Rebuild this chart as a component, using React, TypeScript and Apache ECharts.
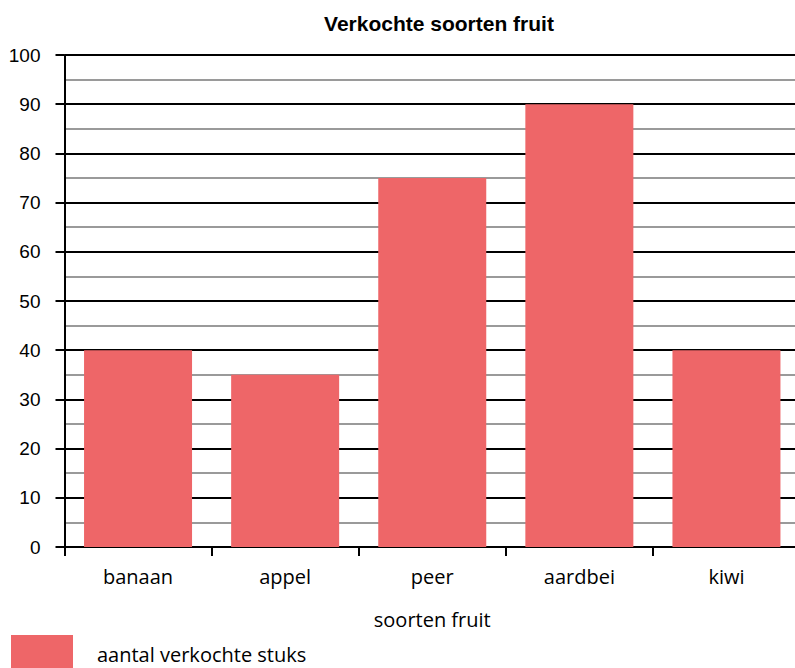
import React, { useEffect, useRef } from "react";
import * as echarts from "echarts";

const categories = ["banaan", "appel", "peer", "aardbei", "kiwi"];
const values = [40, 35, 75, 90, 40];
const seriesName = "aantal verkochte stuks";
const titleText = "Verkochte soorten fruit";
const xAxisName = "soorten fruit";

export default function App() {
  const ref = useRef<HTMLDivElement>(null);
  useEffect(() => {
    if (!ref.current) return;
    const chart = echarts.init(ref.current, undefined, { renderer: "svg" });
    chart.setOption({
      animation: false,
      backgroundColor: "#ffffff",
      title: {
        text: titleText,
        left: 434,
        textAlign: "center",
        top: 8,
        textStyle: { fontFamily: "Liberation Sans, Arial", fontSize: 21, fontWeight: "bold", color: "#000" },
      },
      legend: {
        data: [seriesName],
        left: 11,
        top: 635,
        padding: 0,
        itemWidth: 62,
        itemHeight: 38,
        itemGap: 10,
        icon: "rect",
        textStyle: { fontFamily: "Open Sans", fontSize: 20, color: "#000", padding: [0, 0, 0, 19] },
      },
      grid: { left: 64.5, top: 55, width: 735.5, height: 492, containLabel: false },
      xAxis: {
        type: "category",
        data: categories,
        name: xAxisName,
        nameLocation: "middle",
        nameGap: 62,
        nameTextStyle: { fontFamily: "Open Sans", fontSize: 20, color: "#000" },
        axisLine: { show: true, lineStyle: { color: "#000", width: 2 } },
        axisTick: { show: true, length: 9, lineStyle: { color: "#000", width: 2 } },
        axisLabel: { margin: 19, fontFamily: "Open Sans", fontSize: 20, color: "#000" },
        splitLine: { show: false },
      },
      yAxis: {
        type: "value",
        min: 0,
        max: 100,
        interval: 10,
        axisLine: { show: true, lineStyle: { color: "#000", width: 2 } },
        axisTick: { show: true, length: 9, lineStyle: { color: "#000", width: 2 } },
        axisLabel: { margin: 24, fontFamily: "Liberation Sans, Arial", fontSize: 19, color: "#000" },
        splitLine: { show: true, lineStyle: { color: "#000", width: 2 } },
        minorTick: { show: false, splitNumber: 2 },
        minorSplitLine: { show: true, lineStyle: { color: "#9a9a9a", width: 2 } },
      },
      series: [
        {
          name: seriesName,
          type: "bar",
          data: values,
          barWidth: 108,
          itemStyle: { color: "#ee6668" },
        },
      ],
    });
    return () => chart.dispose();
  }, []);
  return (
    <div style={{ width: 795, height: 668, position: "absolute", left: 0, top: 0, overflow: "hidden", background: "#fff" }}>
      <div ref={ref} style={{ width: 810, height: 668, position: "absolute", left: 0, top: 0 }} />
    </div>
  );
}
